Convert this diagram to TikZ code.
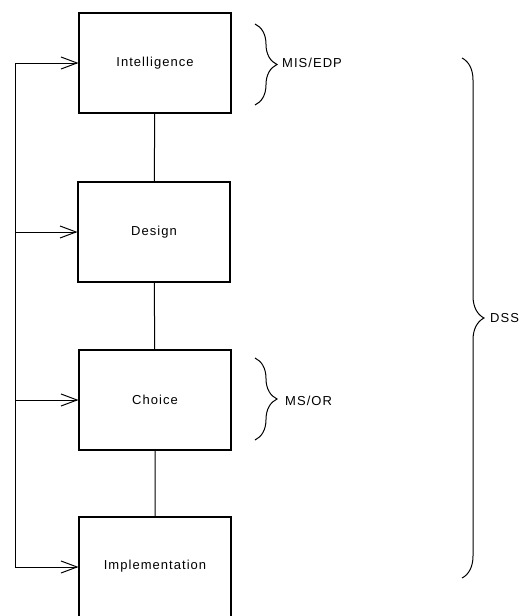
\documentclass[tikz,border=0pt]{standalone}
\usepackage{fontspec}
\setmainfont{Liberation Sans}[LetterSpace=8]
\usetikzlibrary{arrows.meta,decorations.pathreplacing}

\begin{document}
\begin{tikzpicture}[x=1pt,y=-1pt,
    phase/.style={draw,line width=1.1pt,minimum width=152pt,minimum height=100pt,inner sep=0pt,font=\fontsize{13}{15}\selectfont},
    feed/.style={line width=1pt,-{Straight Barb[length=16pt,width=12pt,line width=1pt]}},
    grp/.style={decorate,decoration={brace,amplitude=22pt},line width=1pt},
    lbl/.style={anchor=west,inner sep=0pt,font=\fontsize{13}{15}\selectfont}]
    \useasboundingbox (0,0) rectangle (522,616);
    \clip (0,0) rectangle (522,616);
                        \node (intel) at (155,63) [phase] {Intelligence};
                        \node (design) at (154,232) [phase] {Design};
                        \node (choice) at (155,400) [phase] {Choice};
                        \node (impl) at (155,567) [phase] {\raisebox{5pt}{Implementation}};
                        \coordinate (fb) at (15,0);

                    \draw[line width=1pt] (intel) -- (design) (design) -- (choice) (choice) -- (impl);
                    \draw[line width=1pt] (fb |- intel.west) -- (fb |- impl.west);
                    \draw[feed] (fb |- intel.west) -- (intel.west);
                    \draw[feed] (fb |- design.west) -- (design.west);
                    \draw[feed] (fb |- choice.west) -- (choice.west);
                    \draw[feed] (fb |- impl.west) -- (impl.west);

                    % braces on the right
                    \draw[grp] (255,24) -- (255,105);
                    \draw[grp] (255,358) -- (255,440);
                    \draw[grp] (462,58) -- (462,578);
                        \node (mis) at (282,63) [lbl] {MIS/EDP};
                        \node (msor) at (285,401) [lbl] {MS/OR};
                        \node (dss) at (490,318) [lbl] {DSS};
                \end{tikzpicture}
\end{document}
